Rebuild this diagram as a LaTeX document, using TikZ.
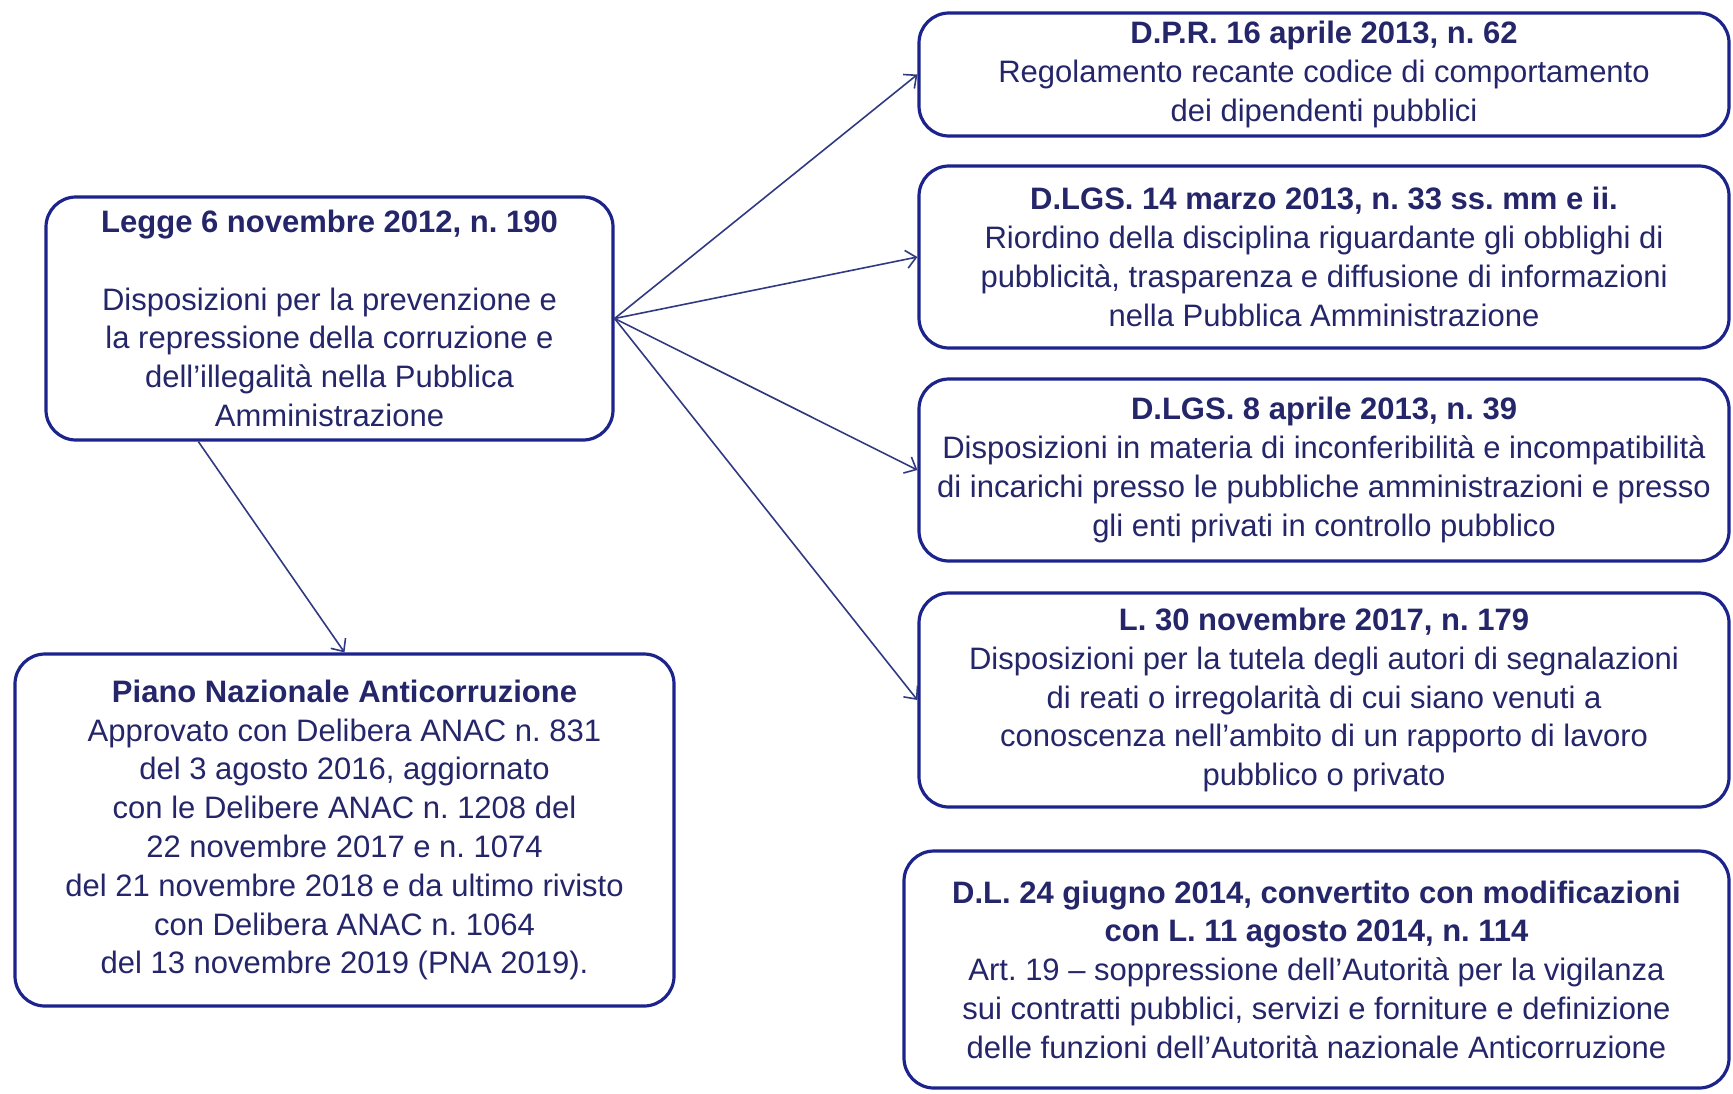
\documentclass[tikz,border=0pt]{standalone}
\usepackage{fontspec}
\setmainfont{Liberation Sans}
\usetikzlibrary{arrows.meta, positioning, calc}
\definecolor{boxblue}{RGB}{28,36,140}
\definecolor{txtblue}{RGB}{36,38,105}
\definecolor{linkblue}{RGB}{48,58,130}
\tikzstyle{block} = [rectangle, rounded corners=15pt, draw=boxblue, line width=1.6pt, align=center, text=txtblue, inner sep=1pt, font=\fontsize{15.5}{19.4}\selectfont, fill=white]
\tikzstyle{link} = [->, >={Straight Barb[length=5pt, width=9pt]}, linkblue, line width=0.8pt]
\newcommand{\hd}[1]{\textbf{#1}}
\frenchspacing

\begin{document}
\begin{tikzpicture}[x=0.5pt, y=-0.5pt]
	\useasboundingbox (0,0) rectangle (1733,1093);

	% Left column
	\node (legge) [block, minimum width=283.5pt, minimum height=121.5pt] at (329.5,318.5) {\hd{Legge 6 novembre 2012, n. 190}\\[19.4pt]Disposizioni per la prevenzione e\\la repressione della corruzione e\\dell’illegalità nella Pubblica\\Amministrazione};
	\node (pna) [block, minimum width=329.5pt, minimum height=176pt] at (344.5,830) {\hd{Piano Nazionale Anticorruzione}\\Approvato con Delibera ANAC n. 831\\del 3 agosto 2016, aggiornato\\con le Delibere ANAC n. 1208 del\\22 novembre 2017 e n. 1074\\del 21 novembre 2018 e da ultimo rivisto\\con Delibera ANAC n. 1064\\del 13 novembre 2019 (PNA 2019).};

	% Right column
	\node (dpr) [block, minimum width=405pt, minimum height=61.5pt] at (1324,74.5) {\hd{D.P.R. 16 aprile 2013, n. 62}\\Regolamento recante codice di comportamento\\dei dipendenti pubblici};
	\node (dlgs33) [block, minimum width=405pt, minimum height=91pt] at (1324,257) {\hd{D.LGS. 14 marzo 2013, n. 33 ss. mm e ii.}\\Riordino della disciplina riguardante gli obblighi di\\pubblicità, trasparenza e diffusione di informazioni\\nella Pubblica Amministrazione};
	\node (dlgs39) [block, minimum width=405pt, minimum height=91pt] at (1324,470) {\hd{D.LGS. 8 aprile 2013, n. 39}\\Disposizioni in materia di inconferibilità e incompatibilità\\di incarichi presso le pubbliche amministrazioni e presso\\gli enti privati in controllo pubblico};
	\node (l179) [block, minimum width=405pt, minimum height=107pt] at (1324,700) {\hd{L. 30 novembre 2017, n. 179}\\Disposizioni per la tutela degli autori di segnalazioni\\di reati o irregolarità di cui siano venuti a\\conoscenza nell’ambito di un rapporto di lavoro\\pubblico o privato};
	\node (dl) [block, minimum width=412.5pt, minimum height=118.5pt] at (1316.5,969.5) {\hd{D.L. 24 giugno 2014, convertito con modificazioni}\\\hd{con L. 11 agosto 2014, n. 114}\\Art. 19 – soppressione dell’Autorità per la vigilanza\\sui contratti pubblici, servizi e forniture e definizione\\delle funzioni dell’Autorità nazionale Anticorruzione};

	% Arrows
	\draw[link] (legge.east) -- (dpr.west);
	\draw[link] (legge.east) -- (dlgs33.west);
	\draw[link] (legge.east) -- (dlgs39.west);
	\draw[link] (legge.east) -- (l179.west);
	\draw[link] ($(legge.south west)!0.27!(legge.south east)$) -- (pna.north);

\end{tikzpicture}
\end{document}
